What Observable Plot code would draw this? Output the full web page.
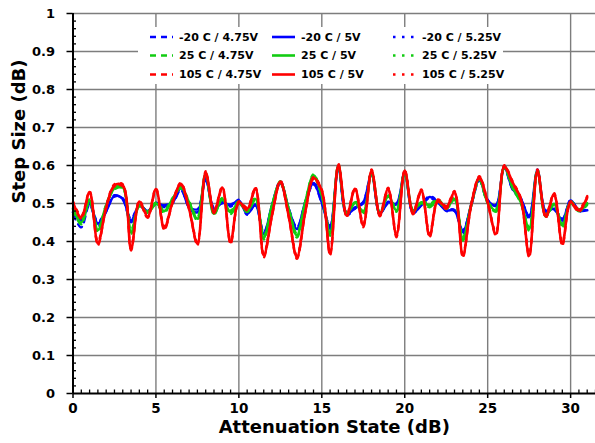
<!DOCTYPE html>
<html>
<head>
<meta charset="utf-8">
<script src="https://cdn.jsdelivr.net/npm/d3@7"></script>
<script src="https://cdn.jsdelivr.net/npm/@observablehq/plot@0.6"></script>
<style>
  html, body { margin: 0; padding: 0; background: #fff; }
  #chart { width: 595px; height: 443px; overflow: hidden; }
  #chart svg { display: block; }
</style>
</head>
<body>
<div id="chart"></div>
<script>
// Attenuation states (dB), 0.5 dB LSB
const states = [0,0.5,1,1.5,2,2.5,3,3.5,4,4.5,5,5.5,6,6.5,7,7.5,8,8.5,9,9.5,10,10.5,11,11.5,12,12.5,13,13.5,14,14.5,15,15.5,16,16.5,17,17.5,18,18.5,19,19.5,20,20.5,21,21.5,22,22.5,23,23.5,24,24.5,25,25.5,26,26.5,27,27.5,28,28.5,29,29.5,30,30.5,31];

// Step size (dB) per temperature / supply
const m20_475 = [0.472,0.437,0.497,0.44,0.478,0.522,0.51,0.45,0.493,0.482, 0.498,0.49,0.5,0.535,0.492,0.485,0.56,0.49,0.5,0.498, 0.505,0.478,0.495,0.425,0.493,0.552,0.488,0.438,0.5,0.55, 0.5,0.442,0.592,0.476,0.49,0.5,0.575,0.476,0.5,0.5, 0.578,0.48,0.495,0.514,0.5,0.485,0.483,0.43,0.493,0.56, 0.505,0.497,0.592,0.536,0.51,0.468,0.583,0.482,0.488,0.46, 0.505,0.484,0.484];
const m20_500 = [0.477,0.455,0.5,0.447,0.48,0.52,0.512,0.455,0.495,0.48, 0.5,0.495,0.503,0.54,0.49,0.477,0.565,0.486,0.503,0.495, 0.508,0.473,0.497,0.42,0.495,0.556,0.486,0.433,0.503,0.554, 0.503,0.437,0.596,0.473,0.488,0.503,0.578,0.473,0.503,0.499, 0.582,0.477,0.495,0.517,0.503,0.482,0.482,0.425,0.495,0.565, 0.508,0.495,0.596,0.539,0.512,0.464,0.587,0.48,0.486,0.455, 0.508,0.482,0.482];
const m20_525 = [0.48,0.46,0.502,0.452,0.483,0.518,0.514,0.46,0.497,0.478, 0.502,0.492,0.505,0.543,0.488,0.472,0.568,0.483,0.505,0.492, 0.51,0.47,0.498,0.416,0.497,0.559,0.484,0.428,0.505,0.557, 0.505,0.433,0.599,0.47,0.486,0.505,0.58,0.47,0.505,0.497, 0.585,0.474,0.497,0.52,0.505,0.48,0.48,0.42,0.497,0.568, 0.51,0.493,0.599,0.542,0.514,0.46,0.59,0.478,0.484,0.45, 0.51,0.48,0.48];

const t25_475 = [0.483,0.445,0.505,0.425,0.493,0.537,0.54,0.42,0.492,0.475, 0.497,0.476,0.51,0.54,0.5,0.455,0.575,0.47,0.51,0.472, 0.5,0.477,0.51,0.405,0.492,0.553,0.483,0.41,0.5,0.57, 0.518,0.415,0.597,0.47,0.5,0.473,0.579,0.47,0.518,0.478, 0.579,0.479,0.5,0.49,0.505,0.485,0.51,0.402,0.492,0.562, 0.5,0.478,0.593,0.54,0.5,0.428,0.584,0.465,0.496,0.437, 0.5,0.479,0.496];
const t25_500 = [0.486,0.45,0.508,0.43,0.495,0.54,0.543,0.425,0.495,0.477, 0.5,0.48,0.512,0.543,0.503,0.46,0.578,0.473,0.512,0.477, 0.503,0.48,0.512,0.41,0.495,0.556,0.486,0.416,0.503,0.574, 0.521,0.42,0.6,0.473,0.503,0.477,0.582,0.473,0.521,0.482, 0.582,0.482,0.503,0.495,0.508,0.488,0.512,0.407,0.495,0.565, 0.503,0.482,0.596,0.543,0.503,0.433,0.587,0.468,0.499,0.442, 0.503,0.482,0.499];
const t25_525 = [0.489,0.455,0.511,0.435,0.498,0.543,0.546,0.43,0.498,0.48, 0.503,0.484,0.515,0.546,0.506,0.465,0.581,0.476,0.515,0.482, 0.506,0.483,0.515,0.415,0.498,0.559,0.489,0.421,0.506,0.577, 0.524,0.425,0.603,0.476,0.506,0.481,0.585,0.476,0.524,0.486, 0.585,0.485,0.506,0.5,0.511,0.491,0.515,0.412,0.498,0.568, 0.506,0.486,0.599,0.546,0.506,0.438,0.59,0.471,0.502,0.447, 0.506,0.485,0.502];

const t105_475 = [0.5,0.46,0.527,0.39,0.487,0.545,0.545,0.376,0.502,0.462, 0.535,0.43,0.5,0.549,0.483,0.39,0.579,0.474,0.539,0.393, 0.5,0.482,0.537,0.358,0.467,0.555,0.464,0.354,0.474,0.564, 0.531,0.363,0.599,0.464,0.536,0.437,0.584,0.466,0.536,0.411, 0.584,0.471,0.531,0.411,0.505,0.486,0.527,0.358,0.492,0.566, 0.5,0.415,0.595,0.553,0.509,0.358,0.584,0.462,0.522,0.389, 0.5,0.478,0.514];
const t105_500 = [0.503,0.464,0.53,0.395,0.49,0.548,0.548,0.38,0.505,0.466, 0.538,0.435,0.503,0.552,0.486,0.394,0.582,0.478,0.542,0.398, 0.503,0.486,0.54,0.363,0.47,0.558,0.468,0.359,0.477,0.567, 0.534,0.368,0.602,0.468,0.539,0.442,0.587,0.47,0.539,0.416, 0.587,0.475,0.534,0.416,0.508,0.49,0.53,0.363,0.495,0.569, 0.503,0.42,0.598,0.556,0.512,0.363,0.587,0.466,0.525,0.394, 0.503,0.482,0.517];
const t105_525 = [0.506,0.468,0.533,0.4,0.493,0.551,0.551,0.385,0.508,0.47, 0.541,0.44,0.506,0.555,0.489,0.399,0.585,0.482,0.545,0.403, 0.506,0.49,0.543,0.368,0.473,0.561,0.472,0.364,0.48,0.57, 0.537,0.373,0.605,0.472,0.542,0.447,0.59,0.474,0.542,0.421, 0.59,0.479,0.537,0.421,0.511,0.494,0.533,0.368,0.498,0.572, 0.506,0.425,0.601,0.559,0.515,0.368,0.59,0.47,0.528,0.399, 0.506,0.486,0.52];

// Axis ticks
const xMajor = [0,5,10,15,20,25,30];
const xMinor = [0.5,1,1.5,2,2.5,3,3.5,4,4.5,5.5,6,6.5,7,7.5,8,8.5,9,9.5,10.5,11,11.5,12,12.5,13,13.5,14,14.5,15.5,16,16.5,17,17.5,18,18.5,19,19.5,20.5,21,21.5,22,22.5,23,23.5,24,24.5,25.5,26,26.5,27,27.5,28,28.5,29,29.5,30.5,31,31.5];
const yMajor = [0,0.1,0.2,0.3,0.4,0.5,0.6,0.7,0.8,0.9,1];
const yMinor = [0.02,0.04,0.06,0.08,0.12,0.14,0.16,0.18,0.22,0.24,0.26,0.28,0.32,0.34,0.36,0.38,0.42,0.44,0.46,0.48,0.52,0.54,0.56,0.58,0.62,0.64,0.66,0.68,0.72,0.74,0.76,0.78,0.82,0.84,0.86,0.88,0.92,0.94,0.96,0.98];

// Series definitions (drawing order: cold first, hot on top)
const BLUE = "#0000ff", GREEN = "#12cc12", RED = "#ff0000";
const DASH = "6,5", DOT = "2.5,6.5";
const series = [
  {name: "-20 C / 4.75V", values: m20_475, color: BLUE, dash: DASH},
  {name: "-20 C / 5.25V", values: m20_525, color: BLUE, dash: DOT},
  {name: "-20 C / 5V", values: m20_500, color: BLUE, dash: null},
  {name: "25 C / 4.75V", values: t25_475, color: GREEN, dash: DASH},
  {name: "25 C / 5.25V", values: t25_525, color: GREEN, dash: DOT},
  {name: "25 C / 5V", values: t25_500, color: GREEN, dash: null},
  {name: "105 C / 4.75V", values: t105_475, color: RED, dash: DASH},
  {name: "105 C / 5.25V", values: t105_525, color: RED, dash: DOT},
  {name: "105 C / 5V", values: t105_500, color: RED, dash: null}
];

// Legend layout: three columns (4.75V, 5V, 5.25V) by three rows (-20, 25, 105 C)
const legendRows = [
  ["-20 C / 4.75V", "-20 C / 5V", "-20 C / 5.25V"],
  ["25 C / 4.75V", "25 C / 5V", "25 C / 5.25V"],
  ["105 C / 4.75V", "105 C / 5V", "105 C / 5.25V"]
];

const lineMarks = series.map(s =>
  Plot.line(states.map((x, i) => ({x, y: s.values[i]})), {
    x: "x", y: "y",
    stroke: s.color,
    strokeWidth: s.dash ? 2.2 : 2.6,
    strokeDasharray: s.dash,
    curve: "catmull-rom"
  })
);

const fmt = d => String(+d.toFixed(1));
const FONT = "DejaVu Sans, Verdana, sans-serif";

const chart = Plot.plot({
  width: 595,
  height: 443,
  marginLeft: 72.5,
  marginRight: 0,
  marginTop: 13,
  marginBottom: 50,
  style: {fontFamily: FONT, fontWeight: "bold", color: "#000", background: "#fff", overflow: "visible"},
  x: {domain: [0, 31.5]},
  y: {domain: [0, 1]},
  marks: [
    Plot.gridX(xMajor.slice(1), {stroke: "#7d7d7d", strokeOpacity: 1, strokeWidth: 1.4}),
    Plot.gridY(yMajor.slice(1), {stroke: "#7d7d7d", strokeOpacity: 1, strokeWidth: 1.4}),
    ...lineMarks,
    Plot.ruleX([0], {stroke: "#000", strokeWidth: 2}),
    Plot.ruleY([0], {stroke: "#000", strokeWidth: 2}),
    Plot.axisY(yMajor, {tickSize: 6, tickPadding: 12, tickFormat: fmt, fontSize: 13, label: null, strokeWidth: 1.5}),
    Plot.axisY(yMinor, {tickSize: -3.5, text: null, label: null, strokeWidth: 1.3}),
    Plot.axisX(xMajor, {tickSize: 5, tickPadding: 5, tickFormat: fmt, fontSize: 13.5, label: null, strokeWidth: 1.5}),
    Plot.axisX(xMinor, {tickSize: -3.5, text: null, label: null, strokeWidth: 1.3}),
    Plot.text(["Step Size (dB)"], {frameAnchor: "left", rotate: -90, dx: -54, fontSize: 18, fontWeight: "bold", fill: "#000"}),
    Plot.text(["Attenuation State (dB)"], {frameAnchor: "bottom", dy: 39, fontSize: 18, fontWeight: "bold", fill: "#000"})
  ]
});

// Legend drawn on a white panel at the top of the plot area
const svg = d3.select(chart);
const leg = svg.append("g")
  .attr("font-family", FONT)
  .attr("font-weight", "bold")
  .attr("font-size", 11)
  .attr("text-anchor", "start");
leg.append("rect").attr("x", 138).attr("y", 27).attr("width", 365).attr("height", 57).attr("fill", "#fff");
const colSample = [150, 272, 393];
const rowY = [37, 55.5, 74.5];
legendRows.forEach((row, r) => {
  row.forEach((name, c) => {
    const s = series.find(d => d.name === name);
    leg.append("line")
      .attr("x1", colSample[c]).attr("x2", colSample[c] + 23)
      .attr("y1", rowY[r]).attr("y2", rowY[r])
      .attr("stroke", s.color).attr("stroke-width", 2.6)
      .attr("stroke-dasharray", s.dash);
    leg.append("text")
      .attr("x", colSample[c] + 29).attr("y", rowY[r]).attr("dy", "0.36em")
      .attr("text-anchor", "start")
      .attr("fill", "#000")
      .text(name);
  });
});

document.getElementById("chart").appendChild(chart);
</script>
</body>
</html>
